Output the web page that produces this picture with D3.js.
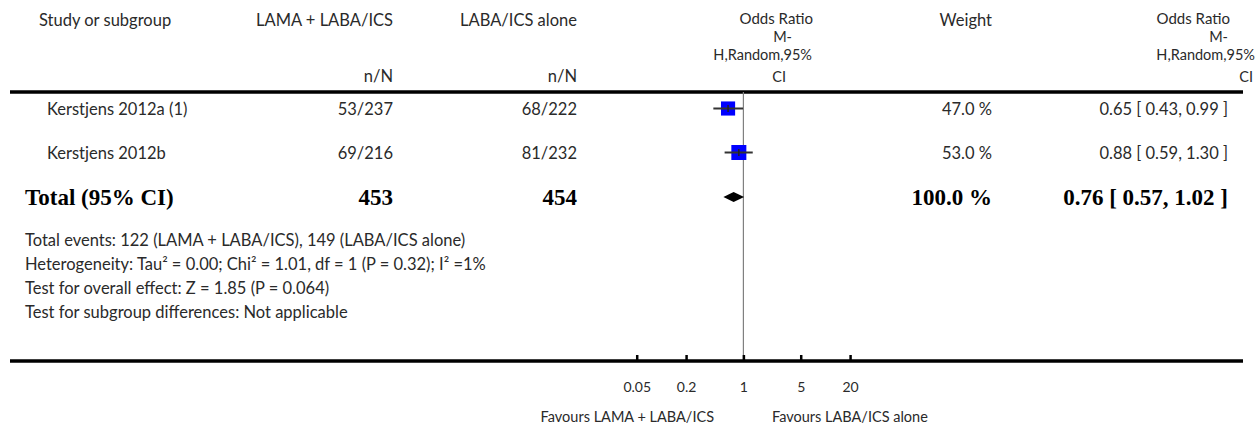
<!DOCTYPE html>
<html><head><meta charset="utf-8">
<script src="https://cdn.jsdelivr.net/npm/d3@7"></script>
<style>
body{margin:0;background:#fff;}
text{font-family:Lato,"Open Sans",sans-serif;fill:#2a2a2a;}
.bold{font-family:"Liberation Serif","Times New Roman",serif;font-weight:bold;fill:#000;}
</style></head><body>
<svg id="chart" width="1258" height="426"></svg>
<script>
// ---- data ----
const studies = ["Kerstjens 2012a (1)", "Kerstjens 2012b"];
const treatEvents = [53, 69];
const treatTotal = [237, 216];
const ctrlEvents = [68, 81];
const ctrlTotal = [222, 232];
const oddsRatio = [0.65, 0.88];
const ciLow = [0.43, 0.59];
const ciHigh = [0.99, 1.30];
const weights = [47.0, 53.0];
const totalLabel = "Total (95% CI)";
const totalTreat = 453;
const totalCtrl = 454;
const totalOR = 0.76, totalLow = 0.57, totalHigh = 1.02, totalWeight = 100.0;
const footerLines = [
  "Total events: 122 (LAMA + LABA/ICS), 149 (LABA/ICS alone)",
  "Heterogeneity: Tau\u00B2 = 0.00; Chi\u00B2 = 1.01, df = 1 (P = 0.32); I\u00B2 =1%",
  "Test for overall effect: Z = 1.85 (P = 0.064)",
  "Test for subgroup differences: Not applicable"
];
const tickValues = [0.05, 0.2, 1, 5, 20];
const tickLabels = ["0.05", "0.2", "1", "5", "20"];
const favoursLeft = "Favours LAMA + LABA/ICS";
const favoursRight = "Favours LABA/ICS alone";
const headers = {
  study: "Study or subgroup",
  treat: "LAMA + LABA/ICS",
  ctrl: "LABA/ICS alone",
  nN: "n/N",
  or: ["Odds Ratio", "M-", "H,Random,95%", "CI"],
  weight: "Weight"
};

// ---- layout ----
const svg = d3.select("#chart");
const fs = 16.5;
const x = d3.scaleLog().domain([0.01, 100]).range([743.4 - 2*82, 743.4 + 2*82]);
const rowY = d3.scalePoint().domain(studies).range([108.5, 152.5]);
const totalY = 197;
const sq = d3.scaleSqrt().domain([0, 53]).range([0, 15]);

function txt(s, xx, yy, anchor, cls, size) {
  return svg.append("text").attr("x", xx).attr("y", yy)
    .attr("text-anchor", anchor || "start")
    .attr("class", cls || null)
    .style("font-size", (size || fs) + "px").text(s);
}

// headers
txt(headers.study, 39, 26);
txt(headers.treat, 393, 26, "end");
txt(headers.ctrl, 577, 26, "end");
txt(headers.weight, 992, 26, "end");
txt(headers.nN, 393, 82, "end");
txt(headers.nN, 577, 82, "end");
const orR1 = [813, 792, 812, 786], orR2 = [1230, 1228, 1255, 1253], orY = [24, 42, 60, 82];
headers.or.forEach((s, i) => {
  const size = i === 0 ? 15 : 14.5;
  txt(s, orR1[i], orY[i], "end", null, size);
  txt(s, orR2[i], orY[i], "end", null, size);
});

// rules
svg.append("line").attr("x1", 10).attr("x2", 1243).attr("y1", 92).attr("y2", 92)
  .attr("stroke", "#000").attr("stroke-width", 3.5);

// null line
svg.append("line").attr("x1", x(1)).attr("x2", x(1)).attr("y1", 92).attr("y2", 361)
  .attr("stroke", "#808080").attr("stroke-width", 1.2);

// study rows
studies.forEach((s, i) => {
  const y = rowY(s);
  txt(s, 47, y + 6);
  txt(treatEvents[i] + "/" + treatTotal[i], 393, y + 6, "end");
  txt(ctrlEvents[i] + "/" + ctrlTotal[i], 577, y + 6, "end");
  txt(weights[i].toFixed(1) + " %", 992, y + 6, "end");
  txt(oddsRatio[i].toFixed(2) + " [ " + ciLow[i].toFixed(2) + ", " + ciHigh[i].toFixed(2) + " ]", 1228, y + 6, "end");
  const side = sq(weights[i]);
  svg.append("rect").attr("x", x(oddsRatio[i]) - side/2).attr("y", y - side/2)
    .attr("width", side).attr("height", side).attr("fill", "#0000ff");
  svg.append("line").attr("x1", x(ciLow[i])).attr("x2", x(ciHigh[i])).attr("y1", y).attr("y2", y)
    .attr("stroke", "#333").attr("stroke-width", 2);
  svg.append("line").attr("x1", x(oddsRatio[i])).attr("x2", x(oddsRatio[i])).attr("y1", y - 3.5).attr("y2", y + 3.5)
    .attr("stroke", "#222").attr("stroke-width", 1.5);
});

// total row
const bs = 23;
txt(totalLabel, 25, totalY + 8, "start", "bold", bs);
txt(String(totalTreat), 393, totalY + 8, "end", "bold", bs);
txt(String(totalCtrl), 577, totalY + 8, "end", "bold", bs);
txt(totalWeight.toFixed(1) + " %", 992, totalY + 8, "end", "bold", bs);
txt(totalOR.toFixed(2) + " [ " + totalLow.toFixed(2) + ", " + totalHigh.toFixed(2) + " ]", 1228, totalY + 8, "end", "bold", bs);
svg.append("path")
  .attr("d", `M${x(totalLow)},${totalY} L${x(totalOR)},${totalY-5} L${x(totalHigh)},${totalY} L${x(totalOR)},${totalY+5} Z`)
  .attr("fill", "#000");

// footer
footerLines.forEach((s, i) => txt(s, 25, 246 + i * 24));

// axis
svg.append("line").attr("x1", 10).attr("x2", 1243).attr("y1", 361).attr("y2", 361)
  .attr("stroke", "#000").attr("stroke-width", 3.5);
const axis = d3.axisBottom(x).tickValues(tickValues)
  .tickFormat((d, i) => tickLabels[i]).tickSizeInner(-6).tickSizeOuter(0).tickPadding(21);
const ag = svg.append("g").attr("transform", "translate(0,361)").call(axis);
ag.select(".domain").remove();
ag.selectAll(".tick line").attr("stroke", "#000").attr("stroke-width", 2.5);
ag.selectAll(".tick text").style("font-family", "Lato,sans-serif").style("font-size", "14px").attr("fill", "#2a2a2a");

txt(favoursLeft, 714, 422, "end", null, 14.5);
txt(favoursRight, 772, 422, "start", null, 14.5);
</script>
</body></html>
